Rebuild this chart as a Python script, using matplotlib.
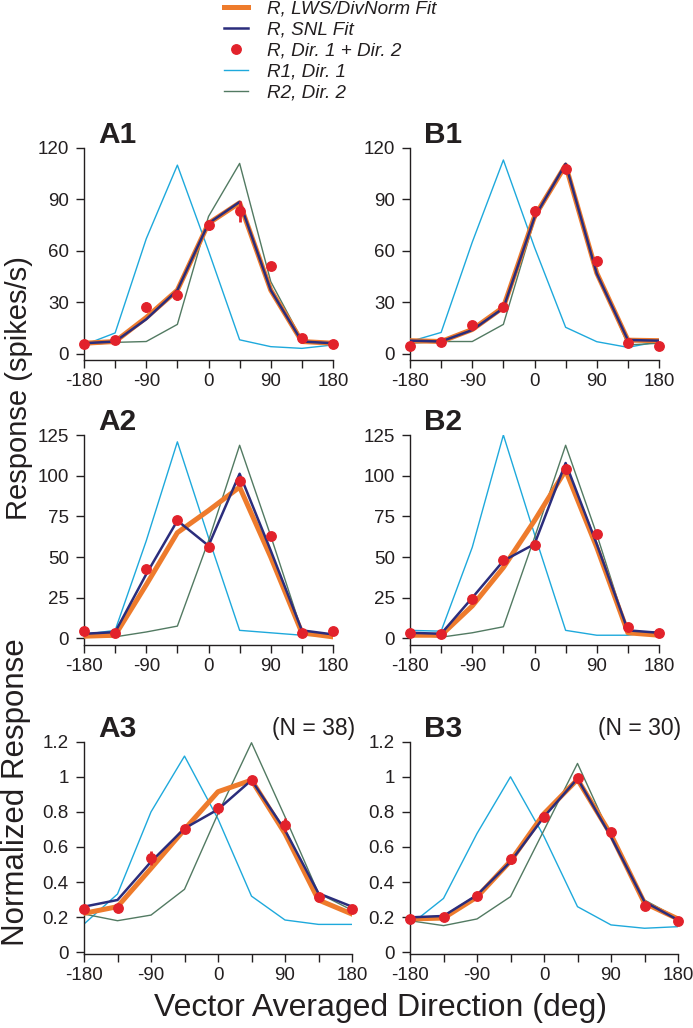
import matplotlib
matplotlib.use('Agg')
import matplotlib.pyplot as plt
from matplotlib.lines import Line2D

plt.rcParams['font.family'] = ['Liberation Sans', 'DejaVu Sans']

W, H = 693, 1028

directions = [-180, -135, -90, -45, 0, 45, 90, 135, 180]
x_major = [-180, -90, 0, 90, 180]
x_minor = [-135, -45, 45, 135]

# ---- Panel A1 ----
a1_r1 = [5, 12, 67, 110, 60, 8, 4, 3, 5]
a1_r2 = [5, 6.5, 7, 17, 80, 111, 42, 8, 6]
a1_lws = [6, 7, 21, 37, 76, 88, 37, 7, 6]
a1_snl = [6, 7, 20, 37, 76, 88.5, 37, 7, 6]
a1_data = [5.3, 7.9, 27, 34, 75, 83, 51, 8.8, 5.3]
a1_err = [1, 1, 3, 3, 3, 6, 2, 1, 1]

# ---- Panel B1 ----
b1_r1 = [7, 12.3, 65, 113, 62, 15.3, 6.9, 3.6, 7]
b1_r2 = [6, 7, 7, 17, 78, 110, 48, 5, 6]
b1_lws = [7.5, 7, 14, 27, 80, 110, 47, 7.8, 7.5]
b1_snl = [7.5, 7, 13.7, 26.5, 79.5, 110.8, 46.7, 7.9, 7.5]
b1_data = [4.5, 6.9, 16.6, 26.9, 83, 107.5, 53.9, 5.9, 4.5]
b1_err = [1, 1, 1.5, 1.5, 3, 2, 3, 1, 1]

# ---- Panel A2 ----
a2_r1 = [2.5, 5, 60, 120.8, 62, 5, 3.5, 2, 1.5]
a2_r2 = [1.4, 1, 4, 7.6, 60, 118.7, 63, 4.5, 1.5]
a2_lws = [1.4, 2, 33, 65, 78.6, 93, 50, 3.5, 1]
a2_snl = [2.9, 3.9, 39.5, 72.4, 57, 101.2, 54, 5, 2.5]
a2_data = [4.9, 3.5, 42.6, 72.8, 56, 96.5, 63.2, 3.5, 4.9]
a2_err = [0.8, 0.8, 1.2, 2, 2, 2, 2.5, 0.8, 0.8]

# ---- Panel B2 ----
b2_r1 = [5, 4.5, 56, 125, 64, 5, 2, 2, 4.5]
b2_r2 = [2.5, 0.8, 3.5, 7.2, 62, 118.7, 64, 4, 2.5]
b2_lws = [2, 2, 20, 43.6, 72.4, 103.3, 56, 3.5, 2]
b2_snl = [3.5, 2.9, 25, 47.7, 58, 107.8, 58, 5, 3.5]
b2_data = [3.5, 2.5, 24, 48, 57.6, 104.3, 64.2, 7, 3.5]
b2_err = [0.8, 0.8, 1.5, 2, 1.5, 3, 1.5, 1, 0.8]

# ---- Panel A3 ----
a3_r1 = [0.161, 0.332, 0.80, 1.118, 0.76, 0.32, 0.184, 0.159, 0.159]
a3_r2 = [0.218, 0.18, 0.212, 0.359, 0.79, 1.194, 0.772, 0.336, 0.24]
a3_lws = [0.222, 0.26, 0.478, 0.70, 0.915, 0.981, 0.677, 0.298, 0.218]
a3_snl = [0.26, 0.298, 0.516, 0.706, 0.814, 0.981, 0.696, 0.336, 0.26]
a3_data = [0.245, 0.254, 0.535, 0.70, 0.82, 0.981, 0.725, 0.317, 0.245]
a3_err = [0.015, 0.015, 0.04, 0.02, 0.03, 0.01, 0.04, 0.02, 0.015]

# ---- Panel B3 ----
b3_r1 = [0.156, 0.307, 0.677, 1.0, 0.66, 0.26, 0.156, 0.137, 0.146]
b3_r2 = [0.18, 0.152, 0.19, 0.317, 0.696, 1.076, 0.658, 0.298, 0.194]
b3_lws = [0.19, 0.195, 0.315, 0.52, 0.79, 0.985, 0.67, 0.28, 0.19]
b3_snl = [0.199, 0.207, 0.326, 0.516, 0.772, 0.99, 0.658, 0.288, 0.184]
b3_data = [0.188, 0.2, 0.321, 0.53, 0.769, 0.994, 0.685, 0.266, 0.18]
b3_err = [0.01, 0.01, 0.015, 0.025, 0.02, 0.01, 0.02, 0.025, 0.01]

ticks_1 = [0, 30, 60, 90, 120]
ticks_2 = [0, 25, 50, 75, 100, 125]
ticks_3 = [0, 0.2, 0.4, 0.6, 0.8, 1.0, 1.2]
tick_labels_3 = ['0', '0.2', '0.4', '0.6', '0.8', '1', '1.2']

legend_labels = ['R, LWS/DivNorm Fit', 'R, SNL Fit', 'R, Dir. 1 + Dir. 2',
                 'R1, Dir. 1', 'R2, Dir. 2']

C_LWS = '#EE7B2C'
C_SNL = '#2B2D7C'
C_DATA = '#E2222B'
C_R1 = '#1EA9DC'
C_R2 = '#527A62'
C_AX = '#231F20'

fig = plt.figure(figsize=(W / 100, H / 100), dpi=100)

panels = [
    ('A1', a1_r1, a1_r2, a1_lws, a1_snl, a1_data, a1_err, ticks_1, None, (-3.5, 120), (84, 333, 148, 359.5), None),
    ('B1', b1_r1, b1_r2, b1_lws, b1_snl, b1_data, b1_err, ticks_1, None, (-3.5, 120), (410, 659, 148, 359.5), None),
    ('A2', a2_r1, a2_r2, a2_lws, a2_snl, a2_data, a2_err, ticks_2, None, (-4, 125), (84, 333, 435, 645), None),
    ('B2', b2_r1, b2_r2, b2_lws, b2_snl, b2_data, b2_err, ticks_2, None, (-4, 125), (410, 659, 435, 645), None),
    ('A3', a3_r1, a3_r2, a3_lws, a3_snl, a3_data, a3_err, ticks_3, tick_labels_3, (-0.008, 1.2), (84, 352, 741.7, 953.7), '(N = 38)'),
    ('B3', b3_r1, b3_r2, b3_lws, b3_snl, b3_data, b3_err, ticks_3, tick_labels_3, (-0.008, 1.2), (410, 678, 741.7, 953.7), '(N = 30)'),
]

for name, r1, r2, lws, snl, data, err, yt, ytl, ylim, box, nlab in panels:
    l, r, t, b = box
    ax = fig.add_axes([l / W, 1 - b / H, (r - l) / W, (b - t) / H])
    ax.plot(directions, r1, color=C_R1, lw=1.0, zorder=2)
    ax.plot(directions, r2, color=C_R2, lw=1.0, zorder=2)
    ax.plot(directions, lws, color=C_LWS, lw=3.6, zorder=3)
    ax.plot(directions, snl, color=C_SNL, lw=1.8, zorder=4)
    ax.errorbar(directions, data, yerr=err, fmt='o', color=C_DATA, ms=6.8,
                elinewidth=2.0, capsize=0, zorder=5, clip_on=False)
    ax.set_xlim(-180, 180)
    ax.set_ylim(*ylim)
    ax.set_xticks(x_major)
    ax.set_xticks(x_minor, minor=True)
    ax.set_xticklabels([str(v) for v in x_major])
    ax.set_yticks(yt)
    if ytl is not None:
        ax.set_yticklabels(ytl)
    for s in ['top', 'right']:
        ax.spines[s].set_visible(False)
    for s in ['left', 'bottom']:
        ax.spines[s].set_linewidth(1.0)
        ax.spines[s].set_color(C_AX)
    ax.tick_params(axis='both', which='both', direction='out', length=6,
                   width=1.0, color=C_AX, labelsize=13.5, labelcolor=C_AX)
    ax.tick_params(axis='y', pad=5)
    ax.tick_params(axis='x', pad=3.5)
    ax.patch.set_alpha(0)
    fig.text((l + 14) / W, 1 - (t - 5) / H, name, fontsize=21.5, fontweight='bold',
             ha='left', va='baseline', color=C_AX)
    if nlab:
        fig.text((r + 3) / W, 1 - (t - 7) / H, nlab, fontsize=16.5, ha='right',
                 va='baseline', color=C_AX)

fig.text(19 / W, 1 - 388 / H, 'Response (spikes/s)', rotation=90, fontsize=21,
         ha='center', va='center', color=C_AX)
fig.text(16 / W, 1 - 792 / H, 'Normalized Response', rotation=90, fontsize=22.5,
         ha='center', va='center', color=C_AX)
fig.text(380 / W, 1 - 1008 / H, 'Vector Averaged Direction (deg)', fontsize=23,
         ha='center', va='center', color=C_AX)

handles = [
    Line2D([], [], color=C_LWS, lw=3.6),
    Line2D([], [], color=C_SNL, lw=1.8),
    Line2D([], [], color=C_DATA, marker='o', ls='none', ms=6.8),
    Line2D([], [], color=C_R1, lw=1.0),
    Line2D([], [], color=C_R2, lw=1.0),
]
leg = fig.legend(handles, legend_labels, loc='upper left',
                 bbox_to_anchor=(224 / W, 1 - 0 / H), frameon=False,
                 prop={'size': 13.6, 'style': 'italic'}, handlelength=1.25,
                 handletextpad=1.05, labelspacing=0.2, borderpad=0,
                 borderaxespad=0)
for txt in leg.get_texts():
    txt.set_color(C_AX)

fig.savefig('out.png', dpi=100)
